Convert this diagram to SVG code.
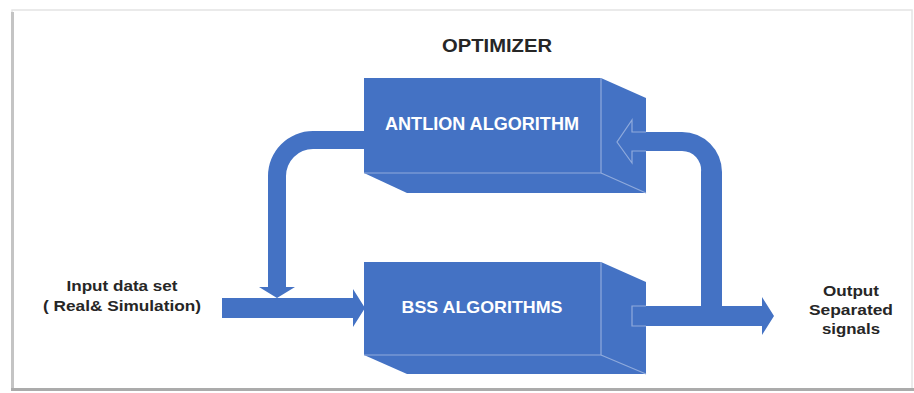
<svg xmlns="http://www.w3.org/2000/svg" width="914" height="393" viewBox="0 0 914 393">
  <style>
    .blue { fill: #4472C4; }
    .edge { fill: none; stroke: #8FAADC; stroke-width: 1.2; }
    .lbl { font-family: "Liberation Sans", Arial, sans-serif; font-weight: bold; text-anchor: middle; }
    .dark { fill: #262626; }
    .white { fill: #FFFFFF; }
  </style>
  <rect x="0" y="0" width="914" height="393" fill="#FFFFFF"/>
  <!-- frame -->
  <g id="frame">
    <rect x="12" y="10" width="900" height="379" fill="#FFFFFF" stroke="#E4E4E4" stroke-width="1.5"/>
    <rect x="11" y="12" width="3" height="378" fill="#C4C4C4"/>
    <rect x="11" y="388" width="903" height="3" fill="#ABABAB"/>
  </g>

  <g id="connectors">
    <!-- feedback from ANTLION down to input line -->
    <path class="blue" d="M372,131 H313 A45,45 0 0 0 268,176 V287 H259 L277,298 L295,287 H286 V176 A27,27 0 0 1 313,149 H372 Z"/>
    <!-- input arrow -->
    <path class="blue" d="M222,298 H353 V289 L365,308 L353,327 V318 H222 Z"/>
    <!-- return arrow from output up to ANTLION -->
    <path class="blue" d="M701,310 V172 A19,19 0 0 0 682,151 H632 V163 L617,142 L632,120 V132 H682 A40,40 0 0 1 722,172 V310 Z"/>
  </g>

  <g id="antlion">
    <polygon class="blue" points="364,78 601,78 646,98 646,193 407,193 364,173"/>
    <polyline class="edge" points="601,78 601,173 364,173"/>
    <line class="edge" x1="601" y1="173" x2="646" y2="193"/>
    <path class="edge" d="M646,132 H632 V120 L617,142 L632,163 V151 H646"/>
    <text class="lbl white" x="482" y="130" font-size="17.5" textLength="194" lengthAdjust="spacingAndGlyphs">ANTLION ALGORITHM</text>
  </g>

  <g id="bss">
    <polygon class="blue" points="364,262 601,262 646,282 646,374 407,374 364,355"/>
    <polyline class="edge" points="601,262 601,355 364,355"/>
    <line class="edge" x1="601" y1="355" x2="646" y2="374"/>
    <text class="lbl white" x="482" y="313" font-size="17" textLength="161" lengthAdjust="spacingAndGlyphs">BSS ALGORITHMS</text>
  </g>

  <g id="output-arrow">
    <path class="blue" d="M646,306 H762 V297 L774,316 L762,335 V326 H646 Z"/>
    <rect class="blue" x="632" y="306" width="16" height="20"/>
    <path class="edge" d="M646,306 H632 V326 H646"/>
  </g>

  <g id="optimizer">
    <text class="lbl dark" x="497" y="52" font-size="18" textLength="110" lengthAdjust="spacingAndGlyphs">OPTIMIZER</text>
  </g>

  <g id="input-label">
    <text class="lbl dark" x="122" y="291" font-size="15" textLength="111" lengthAdjust="spacingAndGlyphs">Input data set</text>
    <text class="lbl dark" x="122" y="311" font-size="15" textLength="158" lengthAdjust="spacingAndGlyphs">( Real&amp; Simulation)</text>
  </g>

  <g id="output-label">
    <text class="lbl dark" x="851" y="296" font-size="15" textLength="56" lengthAdjust="spacingAndGlyphs">Output</text>
    <text class="lbl dark" x="851" y="315" font-size="15" textLength="84" lengthAdjust="spacingAndGlyphs">Separated</text>
    <text class="lbl dark" x="851" y="334" font-size="15" textLength="58" lengthAdjust="spacingAndGlyphs">signals</text>
  </g>
</svg>
